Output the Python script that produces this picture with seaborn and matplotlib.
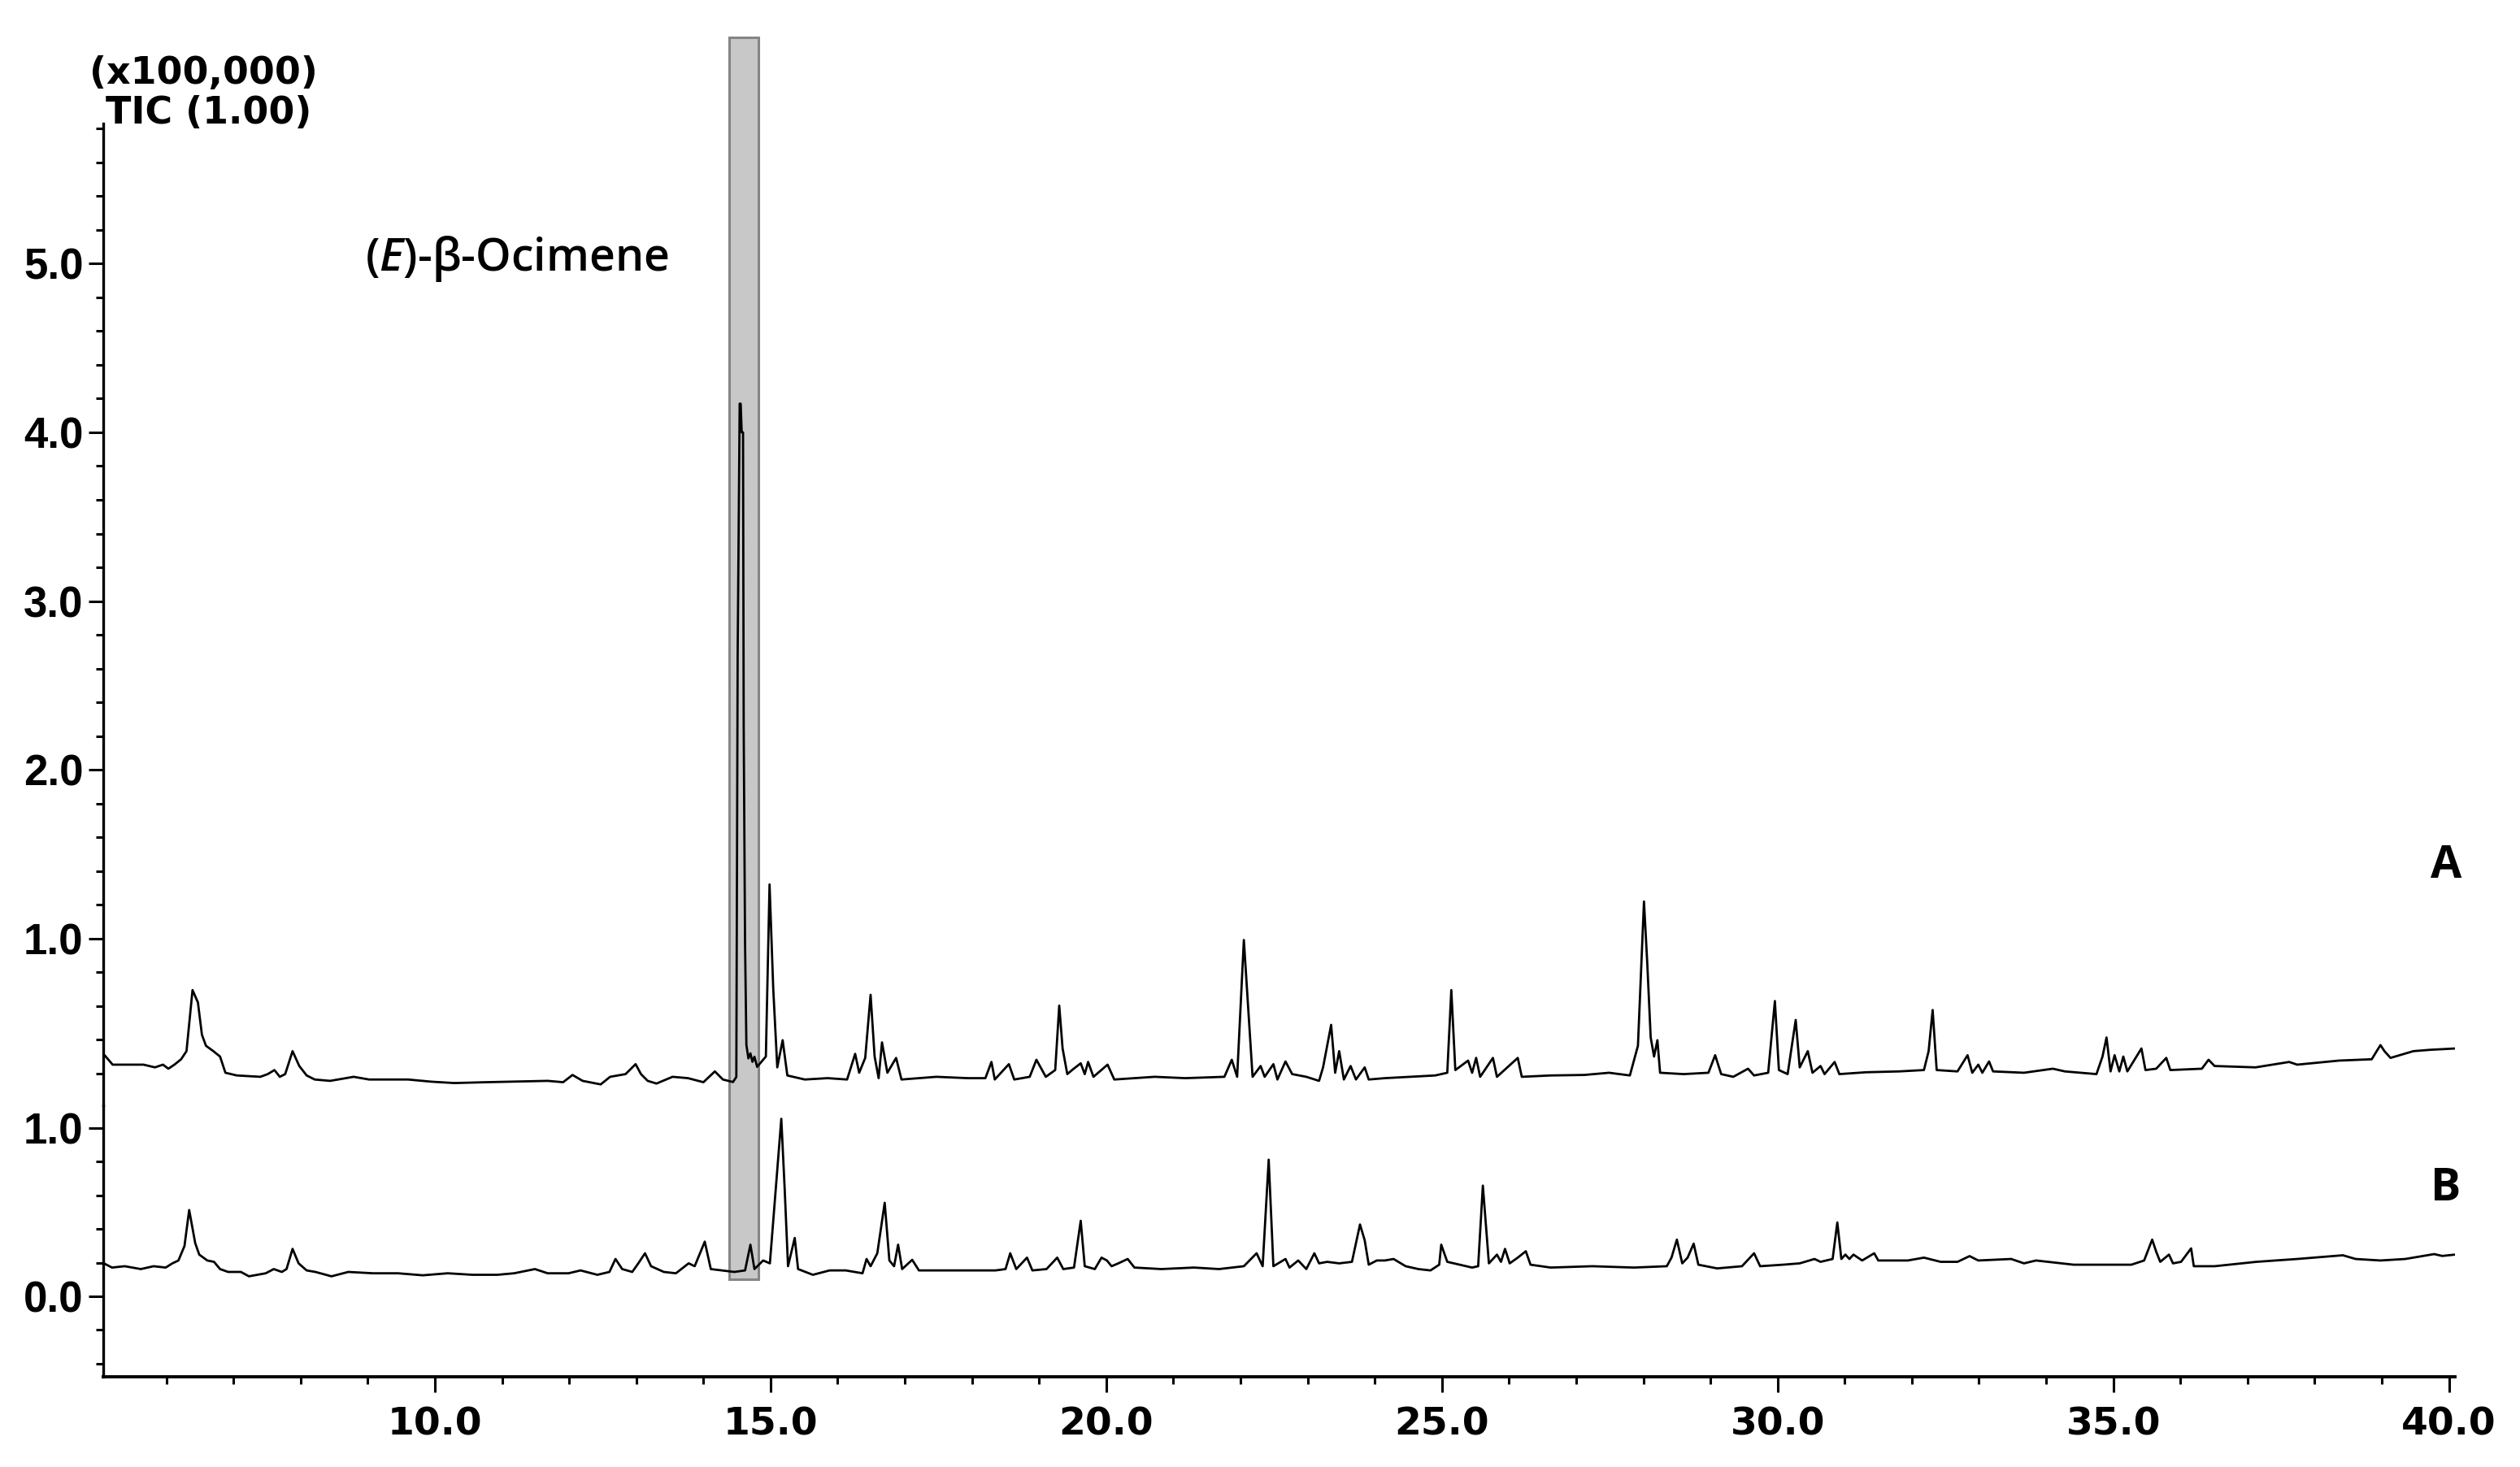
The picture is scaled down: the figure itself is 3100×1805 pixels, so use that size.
import matplotlib
matplotlib.use('Agg')
import matplotlib.pyplot as plt
import matplotlib.transforms as mtransforms
from matplotlib.patches import Rectangle
from matplotlib.ticker import MultipleLocator
import pandas as pd
import seaborn as sns

## DATA (retention time in min, TIC x100,000)
# Trace A
rt_A = [5.08, 5.20, 5.66, 5.83, 5.95, 6.03, 6.12, 6.22, 6.30, 6.39, 6.47, 6.53, 6.59, 6.70, 6.80, 6.88,
        7.05, 7.40, 7.51, 7.61, 7.69, 7.77, 7.88, 7.98, 8.09, 8.21, 8.44, 8.79, 9.02, 9.37, 9.60, 9.95,
        10.29, 10.76, 11.22, 11.68, 11.91, 12.05, 12.20, 12.47, 12.61, 12.84, 12.99, 13.07, 13.17, 13.30,
        13.54, 13.77, 14.00, 14.17, 14.29, 14.44,
        14.49, 14.51, 14.54, 14.555, 14.57, 14.59, 14.60, 14.62, 14.64, 14.67, 14.70, 14.73, 14.76, 14.80,
        14.93, 14.985, 15.04, 15.10, 15.18, 15.25, 15.51, 15.85, 16.14, 16.26, 16.32, 16.41, 16.49, 16.55,
        16.61, 16.66, 16.74, 16.87, 16.95, 17.47, 17.94, 18.20, 18.29, 18.34, 18.55, 18.63, 18.86, 18.96,
        19.10, 19.24, 19.30, 19.35, 19.42, 19.50, 19.62, 19.68, 19.73, 19.81, 20.02, 20.12, 20.72, 21.18,
        21.76, 21.87, 21.95, 22.05, 22.12, 22.18, 22.30, 22.36, 22.49, 22.55, 22.67, 22.77, 22.98, 23.17,
        23.23, 23.35, 23.41, 23.47, 23.54, 23.64, 23.72, 23.85, 23.91, 24.15, 24.52, 24.90, 25.08, 25.14,
        25.20, 25.39, 25.45, 25.51, 25.57, 25.76, 25.82, 26.13, 26.19, 26.62, 27.12, 27.49, 27.80, 27.92,
        28.01, 28.06, 28.11, 28.16, 28.21, 28.25, 28.60, 28.97, 29.07, 29.16, 29.34, 29.56, 29.65, 29.86,
        29.96, 30.02, 30.15, 30.27, 30.33, 30.45, 30.52, 30.64, 30.70, 30.85, 30.92, 31.32, 31.81, 32.18,
        32.25, 32.31, 32.37, 32.68, 32.83, 32.90, 32.99, 33.05, 33.15, 33.21, 33.67, 34.10, 34.28, 34.75,
        34.84, 34.90, 34.96, 35.02, 35.09, 35.15, 35.21, 35.42, 35.48, 35.64, 35.79, 35.85, 36.32, 36.42,
        36.51, 37.12, 37.62, 37.74, 38.36, 38.85, 38.98, 39.04, 39.13, 39.47, 39.72, 40.10]
sig_A = [0.309, 0.253, 0.253, 0.237, 0.253, 0.229, 0.253, 0.285, 0.333, 0.695, 0.622, 0.430, 0.365, 0.333, 0.301, 0.205,
         0.189, 0.181, 0.197, 0.221, 0.181, 0.197, 0.333, 0.245, 0.189, 0.165, 0.157, 0.181, 0.165, 0.165, 0.165, 0.152,
         0.144, 0.149, 0.153, 0.157, 0.149, 0.192, 0.157, 0.136, 0.181, 0.197, 0.256, 0.197, 0.157, 0.141,
         0.181, 0.173, 0.149, 0.213, 0.165, 0.150,
         0.180, 2.690, 4.170, 4.170, 4.000, 4.000, 2.260, 0.970, 0.370, 0.290, 0.320, 0.270, 0.300, 0.240,
         0.301, 1.321, 0.703, 0.237, 0.398, 0.189, 0.165, 0.173, 0.165, 0.317, 0.205, 0.293, 0.667, 0.301,
         0.173, 0.385, 0.205, 0.293, 0.165, 0.181, 0.173, 0.173, 0.269, 0.165, 0.256, 0.165, 0.181, 0.282,
         0.181, 0.221, 0.603, 0.349, 0.197, 0.224, 0.261, 0.197, 0.269, 0.181, 0.253, 0.165, 0.181, 0.173,
         0.181, 0.282, 0.181, 0.992, 0.558, 0.181, 0.245, 0.181, 0.256, 0.165, 0.272, 0.197, 0.181, 0.157,
         0.237, 0.489, 0.205, 0.333, 0.165, 0.245, 0.165, 0.237, 0.165, 0.173, 0.181, 0.189, 0.205, 0.695,
         0.221, 0.277, 0.205, 0.293, 0.181, 0.293, 0.181, 0.293, 0.181, 0.189, 0.192, 0.205, 0.189, 0.365,
         1.220, 0.847, 0.414, 0.301, 0.398, 0.205, 0.197, 0.205, 0.309, 0.197, 0.181, 0.229, 0.189, 0.205,
         0.630, 0.221, 0.197, 0.518, 0.237, 0.333, 0.205, 0.245, 0.197, 0.269, 0.197, 0.208, 0.213, 0.221,
         0.333, 0.577, 0.221, 0.213, 0.309, 0.205, 0.253, 0.205, 0.272, 0.213, 0.205, 0.229, 0.213, 0.197,
         0.301, 0.414, 0.213, 0.309, 0.213, 0.301, 0.213, 0.349, 0.221, 0.229, 0.293, 0.221, 0.229, 0.282,
         0.245, 0.237, 0.269, 0.253, 0.277, 0.285, 0.369, 0.333, 0.293, 0.333, 0.341, 0.349]

# Trace B
rt_B = [5.07, 5.19, 5.38, 5.62, 5.81, 5.99, 6.09, 6.18, 6.27, 6.34, 6.43, 6.49, 6.61, 6.71, 6.80, 6.92,
        7.11, 7.23, 7.48, 7.60, 7.72, 7.79, 7.88, 7.97, 8.09, 8.22, 8.46, 8.71, 9.08, 9.45, 9.82, 10.19,
        10.56, 10.93, 11.18, 11.49, 11.68, 11.99, 12.17, 12.42, 12.60, 12.69, 12.79, 12.94, 13.03, 13.13,
        13.22, 13.41, 13.59, 13.78, 13.87, 14.02, 14.11, 14.27, 14.46, 14.62, 14.70, 14.76, 14.89, 14.99,
        15.16, 15.21, 15.26, 15.36, 15.41, 15.63, 15.88, 16.12, 16.37, 16.43, 16.49, 16.59, 16.70, 16.77,
        16.84, 16.90, 16.96, 17.11, 17.21, 17.73, 18.35, 18.50, 18.57, 18.66, 18.82, 18.90, 19.11, 19.27,
        19.36, 19.52, 19.62, 19.68, 19.83, 19.93, 20.01, 20.08, 20.18, 20.32, 20.42, 20.82, 21.31, 21.68,
        22.05, 22.24, 22.33, 22.42, 22.49, 22.67, 22.73, 22.86, 22.98, 23.10, 23.17, 23.29, 23.47, 23.66,
        23.78, 23.85, 23.91, 24.03, 24.15, 24.28, 24.46, 24.65, 24.83, 24.96, 24.99, 25.08, 25.45, 25.54,
        25.61, 25.70, 25.82, 25.88, 25.94, 26.01, 26.13, 26.25, 26.32, 26.62, 27.24, 27.86, 28.35, 28.42,
        28.50, 28.58, 28.66, 28.75, 28.82, 29.10, 29.47, 29.65, 29.74, 30.08, 30.33, 30.55, 30.64, 30.82,
        30.89, 30.95, 31.01, 31.07, 31.13, 31.26, 31.44, 31.50, 31.94, 32.18, 32.43, 32.68, 32.86, 32.99,
        33.48, 33.67, 33.85, 34.41, 35.27, 35.46, 35.58, 35.64, 35.70, 35.83, 35.89, 36.01, 36.16, 36.20,
        36.51, 37.13, 37.74, 38.42, 38.61, 38.98, 39.35, 39.78, 39.90, 40.09]
sig_B = [0.196, 0.171, 0.179, 0.162, 0.179, 0.171, 0.196, 0.213, 0.299, 0.513, 0.316, 0.248, 0.213, 0.205, 0.162, 0.145,
         0.145, 0.119, 0.137, 0.162, 0.145, 0.162, 0.282, 0.196, 0.154, 0.145, 0.119, 0.145, 0.137, 0.137, 0.125, 0.137,
         0.128, 0.128, 0.137, 0.162, 0.137, 0.137, 0.154, 0.128, 0.145, 0.222, 0.162, 0.145, 0.196, 0.256,
         0.179, 0.145, 0.137, 0.196, 0.179, 0.325, 0.162, 0.154, 0.145, 0.154, 0.307, 0.162, 0.213, 0.196,
         1.055, 0.641, 0.179, 0.347, 0.162, 0.128, 0.154, 0.154, 0.137, 0.222, 0.179, 0.256, 0.556, 0.213,
         0.179, 0.307, 0.162, 0.217, 0.154, 0.154, 0.154, 0.162, 0.256, 0.162, 0.230, 0.154, 0.162, 0.230,
         0.162, 0.171, 0.449, 0.179, 0.162, 0.230, 0.213, 0.179, 0.196, 0.222, 0.171, 0.162, 0.171, 0.162,
         0.179, 0.256, 0.179, 0.812, 0.179, 0.222, 0.171, 0.213, 0.162, 0.256, 0.196, 0.205, 0.196, 0.205,
         0.427, 0.333, 0.188, 0.213, 0.213, 0.222, 0.179, 0.162, 0.154, 0.188, 0.307, 0.205, 0.171, 0.179,
         0.658, 0.196, 0.248, 0.205, 0.282, 0.196, 0.230, 0.268, 0.188, 0.171, 0.179, 0.171, 0.179, 0.230,
         0.337, 0.196, 0.230, 0.313, 0.188, 0.166, 0.179, 0.256, 0.179, 0.188, 0.196, 0.222, 0.205, 0.222,
         0.439, 0.222, 0.248, 0.222, 0.248, 0.213, 0.256, 0.213, 0.213, 0.230, 0.205, 0.205, 0.239, 0.213,
         0.222, 0.196, 0.213, 0.188, 0.188, 0.213, 0.337, 0.265, 0.205, 0.248, 0.196, 0.205, 0.285, 0.179,
         0.179, 0.205, 0.222, 0.244, 0.222, 0.213, 0.222, 0.251, 0.240, 0.248]

band_rt = [14.38, 14.82]          # shaded (E)-beta-ocimene window
x_range = [5.06, 40.09]
ylim_A = [0.012, 5.83]
ylim_B = [-0.478, 1.135]
yticks_A = [1.0, 2.0, 3.0, 4.0, 5.0]
yticks_B = [0.0, 1.0]
xticks = [10.0, 15.0, 20.0, 25.0, 30.0, 35.0, 40.0]

## PLOT
sns.set_style('ticks')
plt.rcParams['font.family'] = ['DejaVu Sans']
plt.rcParams['text.color'] = 'black'
plt.rcParams['axes.edgecolor'] = 'black'
plt.rcParams['xtick.color'] = 'black'
plt.rcParams['ytick.color'] = 'black'
plt.rcParams['mathtext.fontset'] = 'custom'
plt.rcParams['mathtext.it'] = 'Open Sans:italic:semibold'
plt.rcParams['mathtext.rm'] = 'Open Sans:semibold'

fig = plt.figure(figsize=(31, 18.05), dpi=100)
fig.patch.set_facecolor('white')
ax_a = fig.add_axes([0.04097, 0.24654, 0.93322, 0.66925])
ax_b = fig.add_axes([0.04097, 0.06150, 0.93322, 0.18504], sharex=ax_a)

df_A = pd.DataFrame({'rt': rt_A, 'tic': sig_A})
df_B = pd.DataFrame({'rt': rt_B, 'tic': sig_B})
sns.lineplot(data=df_A, x='rt', y='tic', ax=ax_a, color='black', linewidth=2.0,
             estimator=None, sort=False)
sns.lineplot(data=df_B, x='rt', y='tic', ax=ax_b, color='black', linewidth=2.0,
             estimator=None, sort=False)

ax_a.set_ylim(ylim_A)
ax_b.set_ylim(ylim_B)
ax_b.set_xlim(x_range)

for ax, yt in ((ax_a, yticks_A), (ax_b, yticks_B)):
    ax.set_facecolor('none')
    ax.set_xlabel('')
    ax.set_ylabel('')
    for s in ('top', 'right'):
        ax.spines[s].set_visible(False)
    ax.spines['left'].set_linewidth(2.4)
    ax.spines['left'].set_color('black')
    ax.set_yticks(yt, ['%.1f' % v for v in yt], fontfamily='Liberation Sans',
                  fontweight='bold', fontsize=38, color='black')
    ax.yaxis.set_minor_locator(MultipleLocator(0.2))
    ax.tick_params(axis='y', which='major', length=12.7, width=2.2, pad=5, colors='black')
    ax.tick_params(axis='y', which='minor', length=6.7, width=2.2, colors='black')

ax_a.spines['bottom'].set_visible(False)
ax_a.tick_params(axis='x', which='both', bottom=False, labelbottom=False)

ax_b.spines['bottom'].set_linewidth(2.8)
ax_b.spines['bottom'].set_color('black')
ax_b.set_xticks(xticks, ['%.1f' % v for v in xticks], fontweight='bold', fontsize=34,
                color='black')
ax_b.xaxis.set_minor_locator(MultipleLocator(1.0))
ax_b.tick_params(axis='x', which='major', length=14, width=2.2, pad=12, colors='black')
ax_b.tick_params(axis='x', which='minor', length=6.4, width=2.2, colors='black')

# grey band spanning both traces, behind the lines
trans = mtransforms.blended_transform_factory(ax_b.transData, fig.transFigure)
band = Rectangle((band_rt[0], 0.128), band_rt[1] - band_rt[0], 0.9745 - 0.128,
                 transform=trans, facecolor='#c8c8c8', edgecolor='#858585',
                 linewidth=2.2, zorder=-1)
fig.patches.append(band)

# labels
fig.text(0.03548, 0.94294, '(x100,000)', fontsize=33, fontweight='bold',
         ha='left', va='baseline', color='black')
fig.text(0.04194, 0.91579, 'TIC (1.00)', fontsize=33, fontweight='bold',
         ha='left', va='baseline', color='black')
fig.text(0.14484, 0.81551, r'($\mathit{E}$)-β-Ocimene', fontsize=40, family='Open Sans',
         fontweight='semibold', ha='left', va='baseline', color='black')
fig.text(0.97081, 0.40166, 'A', fontsize=40, family='Open Sans', fontweight='bold',
         ha='center', va='baseline', color='black')
fig.text(0.97049, 0.18172, 'B', fontsize=40, family='Open Sans', fontweight='bold',
         ha='center', va='baseline', color='black')

fig.savefig('out.png', dpi=100, facecolor='white')
